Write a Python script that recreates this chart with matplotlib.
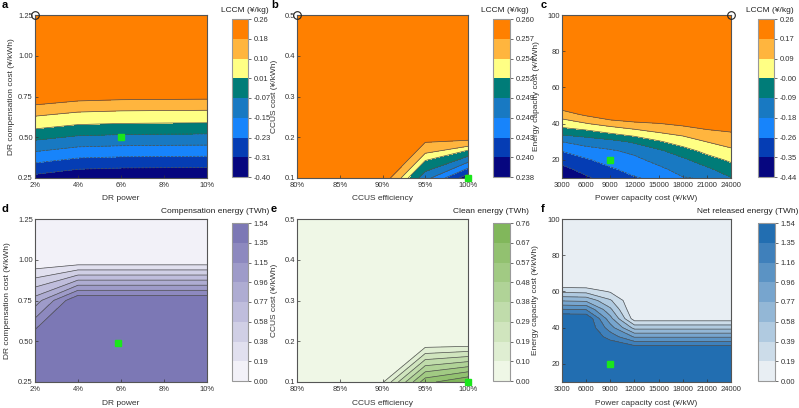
import matplotlib
matplotlib.use('Agg')
import matplotlib.pyplot as plt
from matplotlib.colors import ListedColormap, LinearSegmentedColormap

plt.rcParams['font.family'] = ['Liberation Sans', 'DejaVu Sans']
plt.rcParams['font.size'] = 5.5

###########################################################################
# DATA
###########################################################################
# a / d : demand response
dr_power = [2, 4, 6, 8, 10]
dr_cost = [0.25, 0.5, 0.75, 1.0, 1.25]
lccm_dr = [[-0.336, -0.373, -0.382, -0.384, -0.386],
           [-0.049, -0.081, -0.089, -0.092, -0.094],
           [0.239, 0.212, 0.203, 0.201, 0.199],
           [0.26, 0.26, 0.26, 0.26, 0.26],
           [0.26, 0.26, 0.26, 0.26, 0.26]]
comp_energy = [[1.54, 1.54, 1.54, 1.54, 1.54],
               [1.54, 1.54, 1.54, 1.54, 1.54],
               [0.86, 1.54, 1.54, 1.54, 1.54],
               [0.0, 0.0, 0.0, 0.0, 0.0],
               [0.0, 0.0, 0.0, 0.0, 0.0]]
dr_base = (6, 0.5)
dr_base_d = (5.85, 0.49)
dr_best = (2, 1.25)

# b / e : CCUS
ccus_eff = [80, 85, 90, 95, 100]
ccus_cost = [0.1, 0.2, 0.3, 0.4, 0.5]
lccm_ccus = [[0.26, 0.26, 0.2592, 0.2472, 0.2381],
             [0.26, 0.26, 0.26, 0.2584, 0.2585],
             [0.26, 0.26, 0.26, 0.26, 0.26],
             [0.26, 0.26, 0.26, 0.26, 0.26],
             [0.26, 0.26, 0.26, 0.26, 0.26]]
clean_energy = [[0.0, 0.0, 0.08, 0.633, 0.76],
                [0.0, 0.0, 0.0, 0.0, 0.0],
                [0.0, 0.0, 0.0, 0.0, 0.0],
                [0.0, 0.0, 0.0, 0.0, 0.0],
                [0.0, 0.0, 0.0, 0.0, 0.0]]
ccus_base = (100, 0.1)
ccus_best = (80, 0.5)

# c / f : storage
power_cost = [3000, 6000, 9000, 12000, 15000, 18000, 21000, 24000]
energy_cost = [10, 15, 20, 25, 30, 35, 40, 45, 50, 55,
               60, 65, 70, 75, 80, 85, 90, 95, 100]
lccm_st = [[-0.44, -0.364, -0.31, -0.266, -0.244, -0.185, -0.173, -0.094],
           [-0.375, -0.316, -0.269, -0.234, -0.198, -0.147, -0.106, -0.039],
           [-0.316, -0.269, -0.230, -0.202, -0.152, -0.109, -0.039, 0.016],
           [-0.257, -0.215, -0.191, -0.158, -0.107, -0.039, 0.027, 0.075],
           [-0.18, -0.145, -0.121, -0.077, -0.012, 0.045, 0.091, 0.121],
           [-0.061, -0.036, 0.008, 0.051, 0.088, 0.115, 0.144, 0.164],
           [0.044, 0.085, 0.127, 0.152, 0.167, 0.188, 0.217, 0.247],
           [0.132, 0.183, 0.23, 0.25, 0.256, 0.26, 0.26, 0.26],
           [0.211, 0.26, 0.26, 0.26, 0.26, 0.26, 0.26, 0.26]] + [[0.26] * 8] * 10
net_energy = [[1.54] * 8] * 4 + \
             [[1.54, 1.54, 1.48, 1.36, 1.36, 1.36, 1.36, 1.36],
              [1.54, 1.54, 1.27, 0.94, 0.94, 0.94, 0.94, 0.94],
              [1.54, 1.54, 1.05, 0.51, 0.51, 0.51, 0.51, 0.51],
              [1.54, 1.54, 0.84, 0.09, 0.09, 0.09, 0.09, 0.09],
              [1.17, 1.15, 0.62, 0.0, 0.0, 0.0, 0.0, 0.0],
              [0.75, 0.73, 0.41, 0.0, 0.0, 0.0, 0.0, 0.0],
              [0.34, 0.32, 0.17, 0.0, 0.0, 0.0, 0.0, 0.0]] + [[0.0] * 8] * 8
st_base = (9000, 20)
st_best = (24000, 100)

# colour levels (as printed on the colour bars)
lev_a = [-0.40, -0.31, -0.23, -0.15, -0.07, 0.01, 0.10, 0.18, 0.26]
lab_a = ['-0.40', '-0.31', '-0.23', '-0.15', '-0.07', '0.01', '0.10', '0.18', '0.26']
lev_b = [0.238, 0.240, 0.243, 0.246, 0.249, 0.252, 0.254, 0.257, 0.260]
lab_b = ['0.238', '0.240', '0.243', '0.246', '0.249', '0.252', '0.254', '0.257', '0.260']
lev_c = [-0.44, -0.35, -0.26, -0.18, -0.09, 0.0, 0.09, 0.17, 0.26]
lab_c = ['-0.44', '-0.35', '-0.26', '-0.18', '-0.09', '-0.00', '0.09', '0.17', '0.26']
lev_d = [0.0, 0.1925, 0.385, 0.5775, 0.77, 0.9625, 1.155, 1.3475, 1.54]
lab_d = ['0.00', '0.19', '0.38', '0.58', '0.77', '0.96', '1.15', '1.35', '1.54']
lev_e = [0.0, 0.095, 0.19, 0.285, 0.38, 0.475, 0.57, 0.665, 0.76]
lab_e = ['0.00', '0.10', '0.19', '0.29', '0.38', '0.48', '0.57', '0.67', '0.76']
lev_f = [0.0, 0.1926, 0.3852, 0.5779, 0.7705, 0.9631, 1.1557, 1.3484, 1.541]
lab_f = ['0.00', '0.19', '0.39', '0.58', '0.77', '0.96', '1.16', '1.35', '1.54']

###########################################################################
# STYLE
###########################################################################
cm_lccm = ListedColormap(['#06067f', '#053db4', '#1784fb', '#1879c2',
                          '#007c78', '#ffff84', '#ffb53e', '#ff8000'])
cm_d = LinearSegmentedColormap.from_list('d', ['#fafafd', '#7470b1'])
cm_e = LinearSegmentedColormap.from_list('e', ['#f7fcf0', '#7ab352'])
cm_f = LinearSegmentedColormap.from_list('f', ['#f5f7f7', '#1565ad'])

W, H = 799.0, 408.0
fig = plt.figure(figsize=(7.99, 4.08), dpi=100)


def px_ax(l, t, r, b):
    return [l / W, 1 - b / H, (r - l) / W, (b - t) / H]


def panel(apos, cpos, x, y, z, lev, lab, cmap, title, tx, ty, letter, lx, ly,
          xlabel, ylabel, xticks, xticklabels, yticks, yticklabels, ylim,
          base, ylab_x, xlab_y, best=None):
    ax = fig.add_axes(px_ax(*apos))
    cf = ax.contourf(x, y, z, levels=lev, cmap=cmap)
    ax.contour(x, y, z, levels=lev[1:-1], colors='#505050', linewidths=0.5)
    ax.set_xlim(x[0], x[-1])
    ax.set_ylim(*ylim)
    ax.set_xticks(xticks)
    ax.set_xticklabels(xticklabels)
    ax.set_yticks(yticks)
    ax.set_yticklabels(yticklabels)
    ax.tick_params(direction='in', length=2, width=0.5, labelsize=5.5,
                   colors='#333333')
    ax.tick_params(axis='x', pad=3)
    ax.tick_params(axis='y', pad=1.5)
    for s in ax.spines.values():
        s.set_color('#555555')
        s.set_linewidth(0.8)
    ax.set_xlabel(xlabel, fontsize=6, color='#333333')
    ax.set_ylabel(ylabel, fontsize=6, color='#333333')
    ax.xaxis.set_label_coords(0.5, xlab_y)
    ax.yaxis.set_label_coords(ylab_x, 0.5)
    ax.xaxis.label.set_va('center')
    ax.yaxis.label.set_va('center')
    ax.plot(base[0], base[1], 's', color='#1be61b', markersize=5, clip_on=False, zorder=5)
    if best is not None:
        ax.plot(best[0], best[1], 'o', mfc='none', mec='#222222', mew=0.8,
                markersize=5.5, clip_on=False, zorder=5)

    cax = fig.add_axes(px_ax(*cpos))
    cb = fig.colorbar(cf, cax=cax, ticks=lev)
    cb.ax.set_yticklabels(lab)
    cb.ax.tick_params(direction='out', length=2.5, width=0.5, labelsize=5.5,
                      pad=1.5, colors='#333333')
    cb.outline.set_edgecolor('#999999')
    cb.outline.set_linewidth(0.8)
    fig.text(tx / W, 1 - ty / H, title, ha='right', va='center', fontsize=6,
             color='#222222')
    fig.text(lx / W, 1 - ly / H, letter, ha='left', va='center', fontsize=8,
             fontweight='bold')
    return ax


pct_a = ['2%', '4%', '6%', '8%', '10%']
pct_b = ['80%', '85%', '90%', '95%', '100%']
pw_ticks = [3000, 6000, 9000, 12000, 15000, 18000, 21000, 24000]
pw_labels = [str(v) for v in pw_ticks]

# top row
panel((35, 15, 207, 178), (232, 19, 248, 177), dr_power, dr_cost, lccm_dr,
      lev_a, lab_a, cm_lccm, 'LCCM (¥/kg)', 269, 10, 'a', 2, 5,
      'DR power', 'DR compensation cost (¥/kWh)', dr_power, pct_a,
      dr_cost, ['0.25', '0.50', '0.75', '1.00', '1.25'], (0.25, 1.25),
      dr_base, -0.135, -0.123, dr_best)
panel((297, 15, 468, 178), (493, 19, 510, 177), ccus_eff, ccus_cost, lccm_ccus,
      lev_b, lab_b, cm_lccm, 'LCCM (¥/kg)', 529, 10, 'b', 271, 5,
      'CCUS efficiency', 'CCUS cost (¥/kWh)', ccus_eff, pct_b,
      ccus_cost, ['0.1', '0.2', '0.3', '0.4', '0.5'], (0.1, 0.5),
      ccus_base, -0.13, -0.123, ccus_best)
panel((562, 15, 731, 178), (758, 19, 774, 177), power_cost, energy_cost, lccm_st,
      lev_c, lab_c, cm_lccm, 'LCCM (¥/kg)', 794, 10, 'c', 541, 5,
      'Power capacity cost (¥/kW)', 'Energy capacity cost (¥/kWh)', pw_ticks, pw_labels,
      [20, 40, 60, 80, 100], ['20', '40', '60', '80', '100'], (10, 100),
      st_base, -0.15, -0.123, st_best)

# bottom row
panel((35, 219, 207, 382), (232, 223, 248, 381), dr_power, dr_cost, comp_energy,
      lev_d, lab_d, cm_d, 'Compensation energy (TWh)', 269, 211, 'd', 2, 209,
      'DR power', 'DR compensation cost (¥/kWh)', dr_power, pct_a,
      dr_cost, ['0.25', '0.50', '0.75', '1.00', '1.25'], (0.25, 1.25),
      dr_base_d, -0.16, -0.13)
panel((297, 219, 468, 382), (493, 223, 510, 381), ccus_eff, ccus_cost, clean_energy,
      lev_e, lab_e, cm_e, 'Clean energy (TWh)', 529, 211, 'e', 271, 209,
      'CCUS efficiency', 'CCUS cost (¥/kWh)', ccus_eff, pct_b,
      ccus_cost, ['0.1', '0.2', '0.3', '0.4', '0.5'], (0.1, 0.5),
      ccus_base, -0.13, -0.13)
panel((562, 219, 731, 382), (758, 223, 775, 381), power_cost, energy_cost, net_energy,
      lev_f, lab_f, cm_f, 'Net released energy (TWh)', 798, 211, 'f', 541, 209,
      'Power capacity cost (¥/kW)', 'Energy capacity cost (¥/kWh)', pw_ticks, pw_labels,
      [20, 40, 60, 80, 100], ['20', '40', '60', '80', '100'], (10, 100),
      st_base, -0.155, -0.13)

fig.savefig('out.png', dpi=100)
